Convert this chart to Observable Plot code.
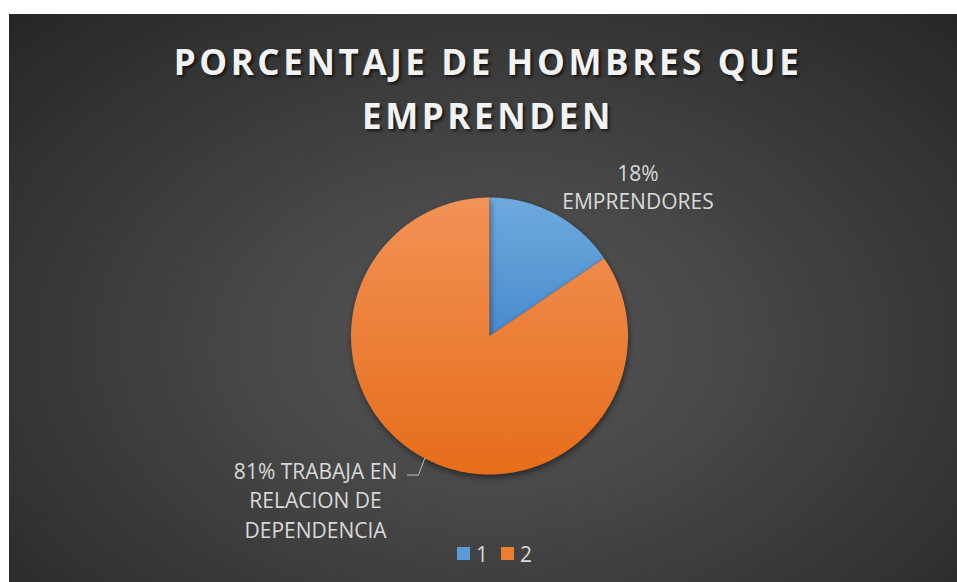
<!DOCTYPE html>
<html>
<head>
<meta charset="utf-8">
<script src="https://cdn.jsdelivr.net/npm/d3@7"></script>
<script src="https://cdn.jsdelivr.net/npm/@observablehq/plot@0.6"></script>
<style>
  html, body { margin: 0; padding: 0; background: #ffffff; }
  body { width: 957px; height: 582px; position: relative; overflow: hidden; }
  #chart {
    position: absolute; left: 9px; top: 14px; width: 948px; height: 568px;
    background: radial-gradient(ellipse farthest-corner at 51% 58%, #555555 0%, #4a4a4a 30%, #262626 100%);
    overflow: hidden;
  }
  #title {
    position: absolute; left: 5px; top: 21px; width: 948px;
    text-align: center; font-family: "Open Sans", sans-serif; font-weight: 700;
    font-size: 35px; line-height: 54px; letter-spacing: 3.6px; color: #f2f2f2;
    text-shadow: 2px 2px 3px rgba(0,0,0,0.65);
  }
  #plot { position: absolute; left: 0; top: 0; }
  #legend { position: absolute; left: 448px; top: 523px; }
  .lg-swatches { font-family: "Open Sans", sans-serif !important; font-size: 21px !important; color: #d9d9d9 !important; }
  .lg-swatch { margin-right: 13px !important; font-size: 21px !important; }
  .lg-swatch > svg { margin-right: 6px !important; }
  .pie { filter: drop-shadow(1px 3px 3px rgba(0,0,0,0.45)); }
</style>
</head>
<body>
<svg width="0" height="0" style="position:absolute">
  <defs>
    <linearGradient id="g0" x1="0" y1="0" x2="0" y2="1">
      <stop offset="0" stop-color="#6eaade"/>
      <stop offset="1" stop-color="#4a8bcd"/>
    </linearGradient>
    <linearGradient id="g1" x1="0" y1="0" x2="0" y2="1">
      <stop offset="0" stop-color="#f29256"/>
      <stop offset="1" stop-color="#e66d1b"/>
    </linearGradient>
  </defs>
</svg>
<div id="chart">
  <div id="title">PORCENTAJE DE HOMBRES QUE<br>EMPRENDEN</div>
  <div id="plot"></div>
  <div id="legend"></div>
</div>
<script>
// ---- data ----
const categories = ["1", "2"];
const values = [15.5, 84.5];
const labelTexts = ["18%\nEMPRENDORES", "81% TRABAJA EN\nRELACION DE\nDEPENDENCIA"];
const colors = ["#5b9bd5", "#ed7d31"];

// ---- layout ----
const W = 948, H = 568, R = 138.5, CX = 480, CY = 321.5;
const xDomain = [-CX / R, (W - CX) / R];
const yDomain = [-(H - CY) / R, CY / R];
const labelPos = [{x: 1.072, y: 1.08}, {x: -1.256, y: -1.177}];

const arcs = d3.pie().sort(null).value(d => d)(values);
const slices = arcs.map((a, i) => {
  const n = Math.max(2, Math.ceil((a.endAngle - a.startAngle) / (Math.PI / 360)));
  const pts = [{x: 0, y: 0}];
  for (let k = 0; k <= n; k++) {
    const t = a.startAngle + (a.endAngle - a.startAngle) * k / n;
    pts.push({x: Math.sin(t), y: Math.cos(t)});
  }
  pts.push({x: 0, y: 0});
  return pts;
});

// leader line for the second label: label end -> elbow -> arc midpoint
const mid2 = (arcs[1].startAngle + arcs[1].endAngle) / 2;
const leader = [
  {x: -0.592, y: -1.004},
  {x: -0.513, y: -1.004},
  {x: Math.sin(mid2), y: Math.cos(mid2)}
];

const plot = Plot.plot({
  width: W, height: H,
  margin: 0,
  x: {domain: xDomain, axis: null},
  y: {domain: yDomain, axis: null},
  style: {background: "transparent", overflow: "visible"},
  marks: [
    ...slices.map((s, i) => Plot.line(s, {x: "x", y: "y", fill: `url(#g${i})`, stroke: "none", className: "pie"})),
    Plot.line(leader, {x: "x", y: "y", stroke: "#bfbfbf", strokeWidth: 1}),
    Plot.text([0], {x: i => labelPos[i].x, y: i => labelPos[i].y, text: i => labelTexts[i],
      fill: "#d9d9d9", fontSize: 21, lineHeight: 1.33, lineAnchor: "middle", textAnchor: "middle",
      fontFamily: "Open Sans, sans-serif"}),
    Plot.text([1], {x: i => labelPos[i].x, y: i => labelPos[i].y, text: i => labelTexts[i],
      fill: "#d9d9d9", fontSize: 21, lineHeight: 1.4, lineAnchor: "middle", textAnchor: "middle",
      fontFamily: "Open Sans, sans-serif"})
  ]
});
document.getElementById("plot").appendChild(plot);

const legend = Plot.legend({
  color: {type: "ordinal", domain: categories, range: colors},
  legend: "swatches", swatchSize: 13, className: "lg"
});
document.getElementById("legend").appendChild(legend);
</script>
</body>
</html>
